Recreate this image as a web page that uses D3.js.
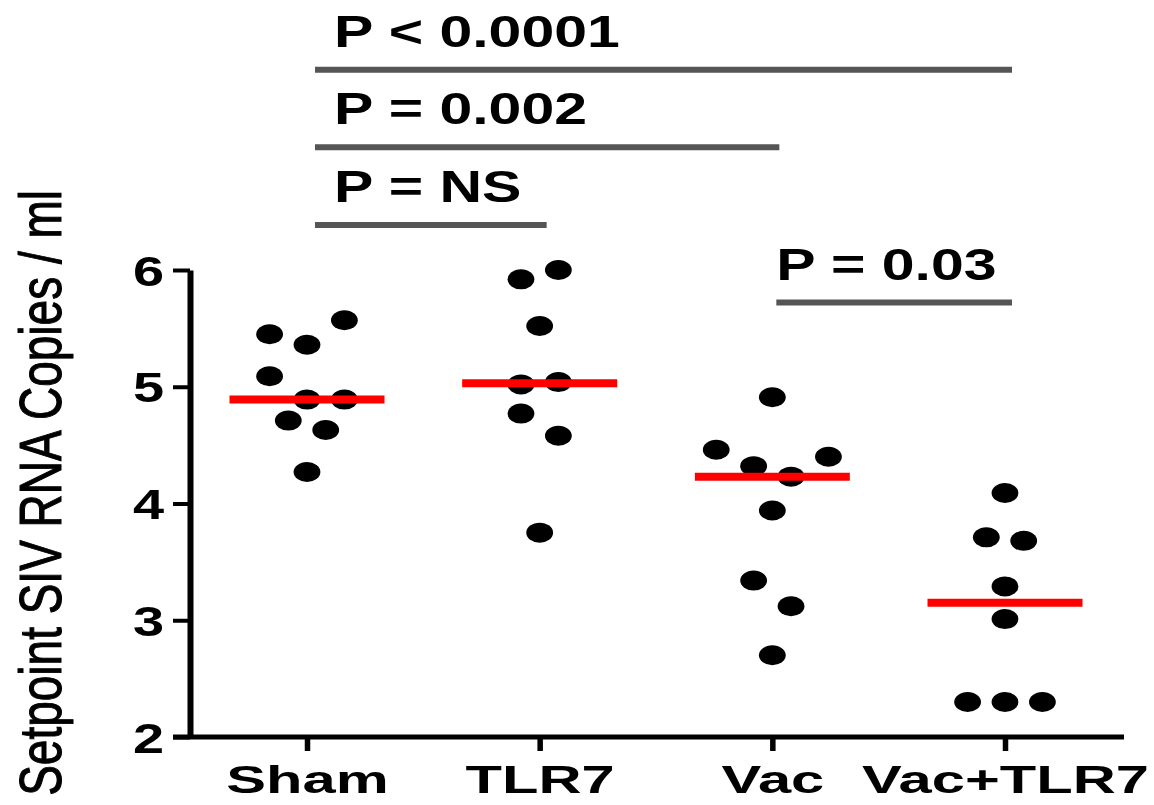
<!DOCTYPE html>
<html>
<head>
    <meta charset="UTF-8">
    <title>Setpoint SIV RNA</title>
    <script src="https://d3js.org/d3.v7.min.js"></script>
    <style>
        body { margin: 0; background: #fff; }
        text { font-family: "Liberation Sans", Arial, sans-serif; }
    </style>
</head>
<body>
    <div id="chart"></div>

    <script>
        // Data (log10 copies / ml), in column order
        var groups = ["Sham", "TLR7", "Vac", "Vac+TLR7"];
        var sham = [5.45, 5.36, 5.57, 5.09, 4.89, 4.89, 4.71, 4.63, 4.27];
        var tlr7 = [5.92, 6.00, 5.52, 5.02, 5.04, 4.77, 4.58, 3.75];
        var vac = [4.91, 4.46, 4.32, 4.23, 4.40, 3.94, 3.34, 3.12, 2.70];
        var vacTlr7 = [4.09, 3.71, 3.68, 3.29, 3.01, 2.30, 2.30, 2.30];
        var yTicks = [2, 3, 4, 5, 6];
        var yTitle = "Setpoint SIV RNA Copies / ml";

        // significance bars (outermost first)
        var pFrom = ["Sham", "Sham", "Sham", "Vac"];
        var pTo = ["Vac+TLR7", "Vac", "TLR7", "Vac+TLR7"];
        var pText = ["P < 0.0001", "P = 0.002", "P = NS", "P = 0.03"];

        var values = [sham, tlr7, vac, vacTlr7];

        var width = 1154, height = 805;

        var svg = d3.select("#chart").append("svg")
            .attr("width", width)
            .attr("height", height);

        var x = d3.scalePoint().domain(groups).range([307, 1005]);
        var y = d3.scaleLinear().domain([2, 6]).range([737, 270]);

        // the figure is stretched sideways, so text and dots are too
        var dotRx = 13.4, dotRy = 10;
        var slot = 37.4;      // horizontal distance between dots in a row
        var rowSpan = 29;     // dots within this many px share a row

        // Prism style layout: rows from the top, dots centred in each row
        function layout(vals, cx) {
            var order = d3.range(vals.length).sort(function (a, b) { return vals[b] - vals[a]; });
            var rows = [], cur = null;
            order.forEach(function (i) {
                if (!cur || y(vals[i]) - y(vals[cur[0]]) > rowSpan) {
                    cur = [i];
                    rows.push(cur);
                } else {
                    cur.push(i);
                }
            });
            var pts = [];
            rows.forEach(function (r) {
                r.sort(d3.ascending);
                r.forEach(function (i, k) {
                    pts.push({ x: cx + (k - (r.length - 1) / 2) * slot, y: y(vals[i]) });
                });
            });
            return pts;
        }

        // y axis
        var yAxis = svg.append("g")
            .attr("transform", "translate(190,0)")
            .call(d3.axisLeft(y).tickValues(yTicks).tickSize(17).tickSizeOuter(0).tickFormat(d3.format("d")));
        yAxis.select(".domain").attr("stroke", "#000").attr("stroke-width", 6);
        yAxis.selectAll(".tick line").attr("stroke", "#000").attr("stroke-width", 4);
        yAxis.selectAll(".tick text")
            .attr("x", null).attr("dy", null)
            .attr("fill", "#000")
            .style("font-size", "43px").style("font-weight", "bold")
            .attr("text-anchor", "end")
            .attr("transform", "translate(-26,15) scale(1.3,1)");

        // x axis
        var xAxis = svg.append("g")
            .attr("transform", "translate(0,737)")
            .call(d3.axisBottom(x).tickSize(14).tickSizeOuter(0));
        xAxis.select(".domain").remove();
        xAxis.append("line")
            .attr("x1", 173).attr("x2", 1124)
            .attr("stroke", "#000").attr("stroke-width", 5);
        xAxis.selectAll(".tick line").attr("stroke", "#000").attr("stroke-width", 5.5);
        xAxis.selectAll(".tick text")
            .attr("y", null).attr("dy", null)
            .attr("fill", "#000")
            .style("font-size", "39px").style("font-weight", "bold")
            .attr("transform", "translate(0,56) scale(1.53,1)");

        // y title
        svg.append("text")
            .attr("transform", "translate(61,190) rotate(-90) scale(1,1.28)")
            .attr("text-anchor", "end")
            .style("font-size", "46px")
            .attr("fill", "#000")
            .attr("stroke", "#000")
            .attr("stroke-width", 0.8)
            .text(yTitle);

        // dots
        groups.forEach(function (g, gi) {
            svg.append("g").selectAll("ellipse")
                .data(layout(values[gi], x(g)))
                .enter().append("ellipse")
                .attr("cx", function (d) { return d.x; })
                .attr("cy", function (d) { return d.y; })
                .attr("rx", dotRx)
                .attr("ry", dotRy)
                .attr("fill", "#000");
        });

        // medians
        svg.append("g").selectAll("line")
            .data(groups)
            .enter().append("line")
            .attr("x1", function (d) { return x(d) - 77.5; })
            .attr("x2", function (d) { return x(d) + 77.5; })
            .attr("y1", function (d, i) { return y(d3.median(values[i])); })
            .attr("y2", function (d, i) { return y(d3.median(values[i])); })
            .attr("stroke", "#ff0000")
            .attr("stroke-width", 8);

        // significance bars, stacked upward from just below the 6 tick
        var barGap = 77.6;
        var bars = svg.append("g");
        pText.forEach(function (t, i) {
            var level = pText.length - 1 - i;
            var by = y(6) + 32.5 - level * barGap;
            var x1 = x(pFrom[i]) + (pFrom[i] === groups[0] ? 8 : 4);
            var x2 = x(pTo[i]) + 7;
            bars.append("line")
                .attr("x1", x1).attr("x2", x2)
                .attr("y1", by).attr("y2", by)
                .attr("stroke", "#555")
                .attr("stroke-width", 6);
            var tx = pFrom[i] === groups[0] ? x(groups[0]) + 27 : x1;
            bars.append("text")
                .attr("transform", "translate(" + tx + "," + (by - 23) + ") scale(1.34,1)")
                .style("font-size", "44px").style("font-weight", "bold")
                .attr("fill", "#000")
                .text(t);
        });
    </script>
</body>
</html>
